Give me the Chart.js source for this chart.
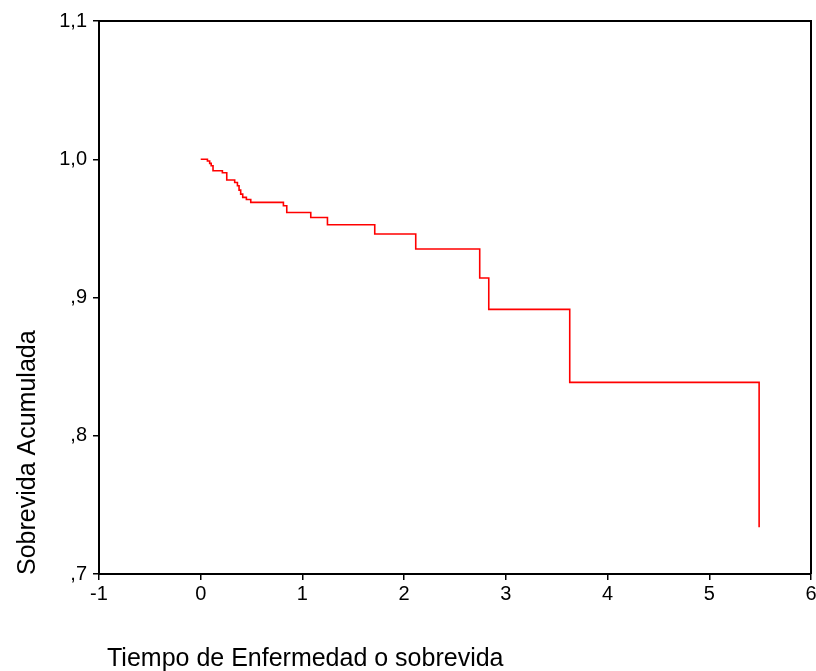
<!DOCTYPE html>
<html>
<head>
<meta charset="utf-8">
<script src="https://cdn.jsdelivr.net/npm/chart.js@4/dist/chart.umd.min.js"></script>
<style>
  html, body { margin: 0; padding: 0; background: #ffffff; }
  #wrap { width: 816px; height: 671px; position: relative; }
</style>
</head>
<body>
<div id="wrap"><canvas id="km"></canvas></div>
<script>
// Kaplan-Meier survival estimate: event times and cumulative survival after each event
const eventTimes = [0, 0.066, 0.088, 0.103, 0.121, 0.213, 0.256, 0.334, 0.361, 0.377, 0.393, 0.413, 0.449, 0.492, 0.813, 0.846, 1.082, 1.246, 1.711, 2.114, 2.743, 2.832, 3.628, 5.49];
const survival   = [1.0, 0.9987, 0.997, 0.9953, 0.9917, 0.9902, 0.985, 0.9832, 0.9808, 0.9777, 0.9748, 0.9724, 0.9709, 0.9688, 0.9664, 0.9615, 0.9579, 0.9526, 0.9459, 0.9351, 0.9141, 0.8914, 0.8386, 0.7338];

const xTicks = [-1, 0, 1, 2, 3, 4, 5, 6];
const yTicks = [0.7, 0.8, 0.9, 1.0, 1.1];

const xTitle = 'Tiempo de Enfermedad o sobrevida';
const yTitle = 'Sobrevida Acumulada';

const FONT = '"Liberation Sans", Arial, sans-serif';

// SPSS-style decimal labels: comma separator, no leading zero
function fmtY(v) {
  let s = v.toFixed(1).replace('.', ',');
  if (s.startsWith('0,')) s = s.slice(1);
  return s;
}

const points = eventTimes.map((t, i) => ({ x: t, y: survival[i] }));

// Closed frame around the plot plus free-placed axis titles
const framePlugin = {
  id: 'frameAndTitles',
  afterDraw(chart) {
    const { ctx, chartArea: a } = chart;
    ctx.save();
    ctx.strokeStyle = '#000';
    ctx.lineWidth = 2;
    ctx.beginPath();
    ctx.moveTo(a.left, a.top);
    ctx.lineTo(a.right, a.top);
    ctx.lineTo(a.right, a.bottom);
    ctx.stroke();

    ctx.fillStyle = '#000';
    ctx.font = '25px ' + FONT;
    ctx.textBaseline = 'alphabetic';
    ctx.textAlign = 'left';
    ctx.fillText(xTitle, 107, 666);

    ctx.translate(35, 575);
    ctx.rotate(-Math.PI / 2);
    ctx.fillText(yTitle, 0, 0);
    ctx.restore();
  }
};

new Chart(document.getElementById('km'), {
  type: 'line',
  data: {
    datasets: [{
      data: points,
      stepped: 'before',
      borderColor: '#ff0000',
      borderWidth: 1.6,
      pointRadius: 0,
      fill: false,
      tension: 0
    }]
  },
  options: {
    responsive: true,
    maintainAspectRatio: false,
    animation: false,
    layout: { padding: { top: 21, right: 5, left: 0, bottom: 0 } },
    plugins: { legend: { display: false }, tooltip: { enabled: false } },
    scales: {
      x: {
        type: 'linear',
        min: -1,
        max: 6,
        afterFit(scale) {
          scale.height = 97;
          scale.paddingLeft = 0;
          scale.paddingRight = 0;
        },
        afterBuildTicks(scale) { scale.ticks = xTicks.map(v => ({ value: v })); },
        ticks: {
          color: '#000',
          font: { family: FONT, size: 20 },
          padding: 2,
          maxRotation: 0,
          callback: v => String(v)
        },
        grid: { display: true, drawOnChartArea: false, drawTicks: true, tickLength: 6, color: '#000', lineWidth: 1.5 },
        border: { display: true, color: '#000', width: 2 }
      },
      y: {
        type: 'linear',
        min: 0.7,
        max: 1.1,
        afterFit(scale) {
          scale.width = 99;
          scale.paddingTop = 0;
          scale.paddingBottom = 0;
        },
        afterBuildTicks(scale) { scale.ticks = yTicks.map(v => ({ value: v })); },
        ticks: {
          color: '#000',
          font: { family: FONT, size: 20 },
          padding: 6,
          callback: v => fmtY(v)
        },
        grid: { display: true, drawOnChartArea: false, drawTicks: true, tickLength: 6, color: '#000', lineWidth: 1.5 },
        border: { display: true, color: '#000', width: 2 }
      }
    }
  },
  plugins: [framePlugin]
});
</script>
</body>
</html>
